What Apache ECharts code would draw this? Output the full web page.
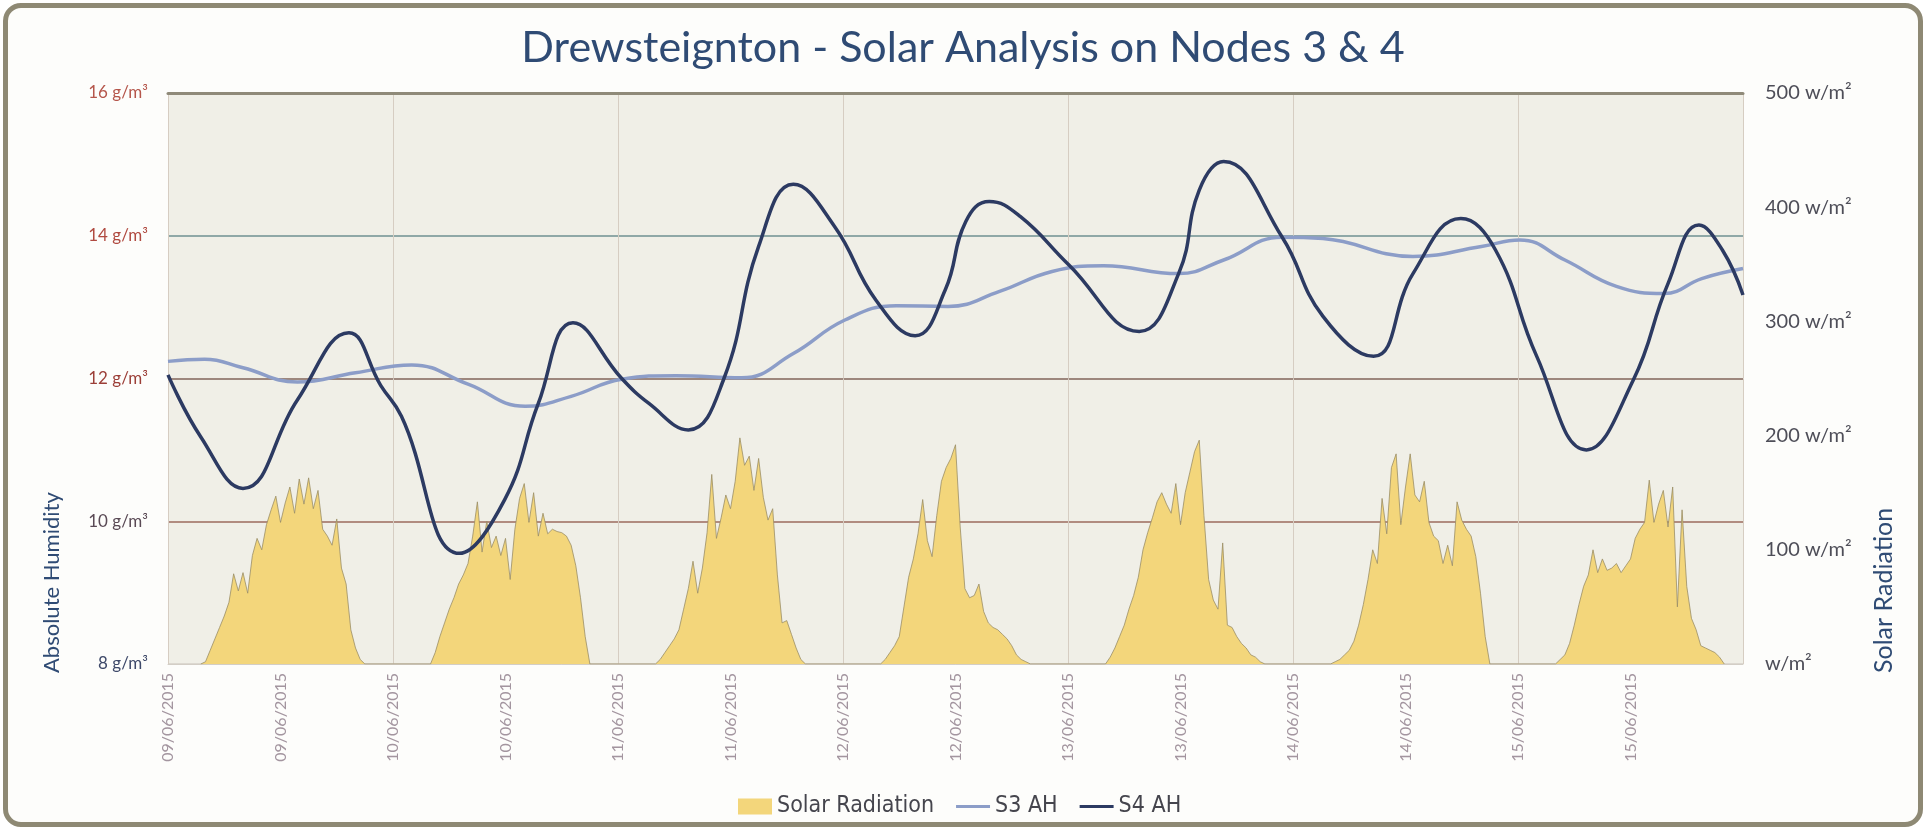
<!DOCTYPE html>
<html>
<head>
<meta charset="utf-8">
<script src="https://cdn.jsdelivr.net/npm/echarts@6/dist/echarts.min.js"></script>
<style>
html,body{margin:0;padding:0;background:#ffffff;}
#frame{position:absolute;left:3px;top:3px;width:1910px;height:814px;border:5px solid #8e8974;border-radius:18px;background:#fdfdfb;}
#chart{position:absolute;left:0;top:0;width:1926px;height:830px;}
</style>
</head>
<body>
<div id="frame"></div>
<div id="chart"></div>
<script>
// ---------- DATA ----------
// x tick labels every 12 hours from 09/06/2015 00:00
const xTickLabels = ['09/06/2015','09/06/2015','10/06/2015','10/06/2015','11/06/2015','11/06/2015','12/06/2015','12/06/2015','13/06/2015','13/06/2015','14/06/2015','14/06/2015','15/06/2015','15/06/2015'];
const humidityTickLabels = ['8 g/m³','10 g/m³','12 g/m³','14 g/m³','16 g/m³'];
const radiationTickLabels = ['w/m²','100 w/m²','200 w/m²','300 w/m²','400 w/m²','500 w/m²'];

// Solar radiation (w/m²), one array per day, half-hour steps from the given start hour
const solarStartHours = [3.5, 28, 52, 76, 100, 124, 148];
const solarDay1 = [0,2,12,22,32,42,54,79,64,80,62,95,110,100,122,135,147,124,141,155,132,162,140,163,136,152,118,112,104,127,84,70,30,14,4,0];
const solarDay2 = [0,10,24,36,48,58,70,78,88,112,142,98,125,102,112,95,110,74,118,145,158,124,150,112,132,114,118,116,115,112,104,86,58,24,0];
const solarDay3 = [0,4,10,16,22,30,48,66,90,62,84,115,166,110,128,148,136,160,198,174,182,152,180,146,126,136,78,36,38,26,14,4,0];
const solarDay4 = [0,4,10,16,24,50,76,92,114,144,108,94,130,160,172,180,192,120,66,58,60,70,46,36,32,30,26,22,16,8,4,2,0];
const solarDay5 = [0,6,14,24,34,48,60,76,100,115,128,142,150,140,132,158,122,150,168,186,196,130,74,56,48,106,34,32,24,18,14,8,6,2,0];
const solarDay6 = [0,2,4,8,12,20,34,52,74,100,88,145,114,172,184,122,155,184,148,142,160,124,112,108,88,104,86,142,126,118,112,94,62,24,0];
const solarDay7 = [0,4,8,18,34,52,68,78,100,80,92,82,84,88,80,86,92,110,118,124,161,124,140,152,120,155,50,135,68,40,30,16,14,12,10,6,0];

// S3 absolute humidity (g/m³) at hours since 09/06/2015 00:00
const s3Hours  = [0,3.9,8,13.8,20,26,32,38.1,43,48.4,54.2,61.2,66.7,72.2,77.7,83.2,88.7,94.3,99.8,107.8,112.6,118.8,123.2,132.8,140.1,144.2,149,154.5,159.6,163.6,168];
const s3Values = [12.24,12.27,12.15,11.95,12.08,12.19,11.92,11.61,11.75,11.99,12.04,12.01,12.35,12.82,13.02,13.01,13.22,13.5,13.58,13.47,13.66,13.98,13.96,13.71,13.85,13.94,13.66,13.29,13.19,13.4,13.54];

// S4 absolute humidity (g/m³)
const s4Hours  = [0,3.5,8,13.8,19.3,22.7,24.9,31.1,35.9,39.5,43.2,48.4,51.3,55.5,59.3,63,66.7,71.1,75.5,79.7,82.9,85.1,87.6,90.9,96.1,103.6,107.8,110,112.6,118.8,123.2,128.6,132.8,137.9,141.6,146,151.3,156.3,160,163.3,165.8,168];
const s4Values = [12.05,11.18,10.46,11.7,12.64,11.9,11.47,9.55,10.3,11.65,12.78,12.0,11.65,11.28,12.0,13.85,14.72,14.13,13.1,12.6,13.24,14.2,14.48,14.27,13.59,12.66,13.47,14.64,15.04,13.99,12.87,12.31,13.47,14.24,13.8,12.31,11.0,11.98,13.33,14.15,13.8,13.17];

// ---------- BUILD ----------
const solarDays = [solarDay1,solarDay2,solarDay3,solarDay4,solarDay5,solarDay6,solarDay7];
const solarData = [];
solarDays.forEach((arr, d) => arr.forEach((v, i) => solarData.push([solarStartHours[d] + i * 0.5, v])));
const s3Data = s3Hours.map((h, i) => [h, s3Values[i]]);
const s4Data = s4Hours.map((h, i) => [h, s4Values[i]]);

const FONT = 'Lato, "Noto Sans", sans-serif';
const NARROW = '"Liberation Sans Narrow", "DejaVu Sans Condensed", Lato, sans-serif';
const SOLAR = '#f3d67b';
const S3C = '#8c9dc8';
const S4C = '#2c3a62';
const humidityLabelColors = ['#3f4a6a', '#5a4a55', '#9c3f38', '#b04a40', '#b5564b'];
const LINE_ICON = 'path://M0,0L34,0L34,0.01Z M0,6.5L34,6.5L34,9.5L0,9.5Z M0,16L34,16L34,16.01Z';

const chart = echarts.init(document.getElementById('chart'), null, {renderer: 'canvas'});
chart.setOption({
  animation: false,
  backgroundColor: 'transparent',
  title: {
    text: 'Drewsteignton - Solar Analysis on Nodes 3 & 4',
    left: 'center', top: 22,
    textStyle: {fontFamily: FONT, fontSize: 43, fontWeight: 'normal', color: '#2f4b74'}
  },
  graphic: [
    {type: 'text', x: 52, y: 673, rotation: Math.PI / 2,
     style: {text: 'Absolute Humidity', fill: '#2f4b74', font: '22px ' + FONT, textAlign: 'left', textVerticalAlign: 'middle'}},
    {type: 'text', x: 1884, y: 673, rotation: Math.PI / 2,
     style: {text: 'Solar Radiation', fill: '#2f4b74', font: '25px ' + FONT, textAlign: 'left', textVerticalAlign: 'middle'}}
  ],
  legend: {
    left: 733, top: 790, itemWidth: 34, itemHeight: 16, itemGap: 22,
    textStyle: {fontFamily: NARROW, fontSize: 23, color: '#45454d'},
    data: [
      {name: 'Solar Radiation', icon: 'rect', itemStyle: {color: SOLAR, borderWidth: 0}},
      {name: 'S3 AH', icon: LINE_ICON, itemStyle: {color: S3C, borderWidth: 0}},
      {name: 'S4 AH', icon: LINE_ICON, itemStyle: {color: S4C, borderWidth: 0}}
    ]
  },
  grid: {left: 168, right: 183, top: 93, bottom: 166, show: true, backgroundColor: '#f0efe7', borderWidth: 0},
  xAxis: [
    {type: 'value', min: 0, max: 168, interval: 12, position: 'bottom',
     axisLine: {show: true, lineStyle: {color: '#d3cec6', width: 1}},
     axisTick: {show: false}, splitLine: {show: false},
     axisLabel: {rotate: 90, margin: 9, color: '#a3959f', fontSize: 16, fontFamily: FONT, showMaxLabel: false,
                 formatter: v => xTickLabels[Math.round(v / 12)] || ''}},
    {type: 'value', min: 0, max: 168, interval: 24, position: 'top',
     axisLine: {show: true, lineStyle: {color: '#8f8a79', width: 3}},
     axisTick: {show: false}, axisLabel: {show: false},
     splitLine: {show: true, lineStyle: {color: '#d6cdc2', width: 1}}}
  ],
  yAxis: [
    {type: 'value', min: 8, max: 16, interval: 2, position: 'left',
     axisLine: {show: false}, axisTick: {show: false},
     axisLabel: {margin: 20, fontSize: 17, fontFamily: FONT,
                 color: (v, i) => humidityLabelColors[Math.round((v - 8) / 2)],
                 formatter: v => humidityTickLabels[Math.round((v - 8) / 2)]},
     splitLine: {show: true, lineStyle: {color: ['#d6d1c8', '#9d6b5e', '#82645a', '#6f9092', '#8f8a79'], width: 1.5}}},
    {type: 'value', min: 0, max: 500, interval: 100, position: 'right',
     axisLine: {show: false}, axisTick: {show: false}, splitLine: {show: false},
     axisLabel: {margin: 22, fontSize: 20, fontFamily: FONT, color: '#4e4e58',
                 formatter: v => radiationTickLabels[Math.round(v / 100)]}}
  ],
  series: [
    {name: 'Solar Radiation', type: 'line', xAxisIndex: 0, yAxisIndex: 1, data: solarData,
     symbol: 'none', showSymbol: false,
     lineStyle: {color: '#9a8e66', width: 0.8}, areaStyle: {color: SOLAR, opacity: 1},
     itemStyle: {color: SOLAR}, z: 2},
    {name: 'S3 AH', type: 'line', xAxisIndex: 0, yAxisIndex: 0, data: s3Data, smooth: 0.45,
     symbol: 'none', showSymbol: false,
     lineStyle: {color: S3C, width: 3.5}, itemStyle: {color: S3C}, z: 3},
    {name: 'S4 AH', type: 'line', xAxisIndex: 0, yAxisIndex: 0, data: s4Data, smooth: 0.45,
     symbol: 'none', showSymbol: false,
     lineStyle: {color: S4C, width: 3.5}, itemStyle: {color: S4C}, z: 4}
  ]
});
</script>
</body>
</html>
